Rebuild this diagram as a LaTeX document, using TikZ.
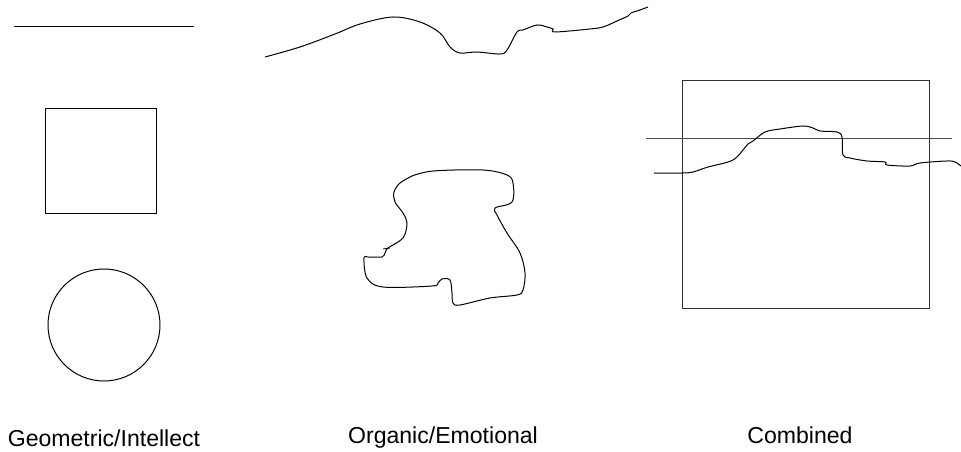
\documentclass[tikz,border=0pt]{standalone}
\usepackage{fontspec}
\setmainfont{Liberation Sans}
\usepackage{tikz}

\tikzset{
  captiontext/.style={font=\fontsize{17.3}{20}\selectfont, anchor=base},
  stroke/.style={line width=0.75pt, black},
  wavy/.style={line width=0.75pt, black, smooth, tension=0.55}
}

\begin{document}
\begin{tikzpicture}[x=0.75pt, y=-0.75pt]
\useasboundingbox (0,0) rectangle (961,452);

% geometric
\draw[stroke] (14,27) -- (194,27);
\draw[stroke] (45,109) rectangle (156,214);
\draw[stroke] (104,325) circle (56);

% organic
\draw[wavy] plot coordinates {(265,57) (300,47) (335,34) (360,24) (393,17) (420,22) (440,33) (450,47) (460,53) (477,52) (500,54) (507,50) (517,32) (523,30) (537,25) (547,27) (553,29) (555,32) (590,29) (603,27) (617,21) (628,16) (631,13) (640,10) (648,7)};
\draw[wavy] plot coordinates {(412,176) (433,171) (483,170) (507,175) (513,183) (512,202) (495,208) (497,215) (507,233) (520,253) (525,273) (523,290) (517,295) (490,298) (460,305) (453,303) (452,293) (450,280) (442,279) (438,283) (432,286) (383,287) (367,278) (364,258) (368,257) (382,257) (385,253) (388,248) (403,238) (407,223) (403,213) (395,202) (394,192) (400,183) (412,176)};
\draw[stroke, line width=0.6pt] (383,249) -- (390,248);

% combined
\draw[stroke, black!80] (682,81) rectangle (929,309);
\draw[stroke, black!70] (646,139) -- (952,139);
\draw[wavy] plot coordinates {(654,173) (682,173) (693,172) (708,167) (728,162) (737,157) (748,144) (753,141) (765,132) (780,129) (803,126) (813,128) (820,131) (837,132) (842,137) (843,155) (850,158) (867,161) (885,162) (887,165) (910,166) (920,163) (947,161) (955,162) (961,166)};

% captions
\node[captiontext] (geo) at (104,446) {Geometric/Intellect};
\node[captiontext] (org) at (443,444) {Organic/Emotional};
\node[captiontext] (comb) at (800,444) {Combined};
\end{tikzpicture}
\end{document}
